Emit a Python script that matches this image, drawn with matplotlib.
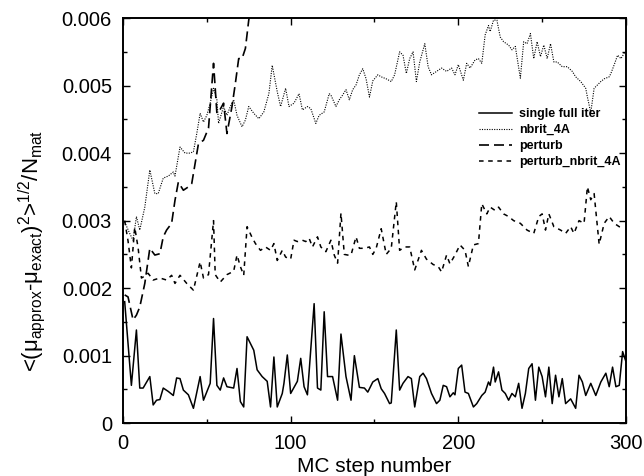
import matplotlib
matplotlib.use("Agg")
import matplotlib.pyplot as plt
from matplotlib.ticker import MultipleLocator

plt.rcParams['font.family'] = ['Liberation Sans', 'DejaVu Sans']
plt.rcParams['mathtext.fontset'] = 'custom'
plt.rcParams['mathtext.rm'] = 'Liberation Sans'
plt.rcParams['mathtext.it'] = 'Liberation Sans'
plt.rcParams['mathtext.bf'] = 'Liberation Sans:bold'

# ---------------- data ----------------
single_x = [1, 5, 8, 10, 12, 16, 18, 20, 22, 24, 27, 30, 32, 34, 36, 39, 42, 46, 48, 52,
            54, 56, 58, 60, 62, 66, 68, 70, 72, 74, 78, 80, 83, 86, 88, 90, 92, 95, 96, 98,
            100, 104, 106, 108, 110, 114, 116, 118, 120, 122, 125, 128, 130, 133, 136, 138,
            141, 144, 146, 149, 152, 154, 156, 159, 160, 163, 165, 167, 170, 172, 174, 177,
            179, 181, 184, 187, 189, 191, 193, 195, 197, 198, 200, 202, 204, 206, 209, 211,
            214, 216, 218, 219, 221, 222, 224, 226, 228, 230, 232, 234, 236, 238, 240, 242,
            244, 246, 248, 250, 252, 254, 256, 258, 260, 262, 264, 267, 270, 272, 274, 276,
            279, 282, 285, 288, 290, 292, 294, 296, 298, 300]
single_y = [0.00180, 0.00056, 0.00138, 0.00052, 0.00052, 0.00069, 0.00027, 0.00034, 0.00035, 0.00052,
            0.00047, 0.00041, 0.00067, 0.00066, 0.00049, 0.00042, 0.00022, 0.00069, 0.00034, 0.00059,
            0.00155, 0.00056, 0.00049, 0.00067, 0.00054, 0.00052, 0.00081, 0.00032, 0.00024, 0.00128,
            0.00108, 0.00079, 0.00069, 0.00062, 0.00024, 0.00098, 0.00024, 0.00044, 0.00059, 0.00101,
            0.00044, 0.00062, 0.00096, 0.00054, 0.00042, 0.00177, 0.00052, 0.00049, 0.00165, 0.00069,
            0.00069, 0.00034, 0.00132, 0.00069, 0.00034, 0.00100, 0.00053, 0.00052, 0.00046, 0.00061,
            0.00066, 0.00051, 0.00044, 0.00029, 0.00030, 0.00138, 0.00049, 0.00059, 0.00069, 0.00066,
            0.00024, 0.00069, 0.00074, 0.00066, 0.00044, 0.00029, 0.00034, 0.00056, 0.00054, 0.00039,
            0.00045, 0.00042, 0.00081, 0.00086, 0.00046, 0.00044, 0.00024, 0.00029, 0.00041, 0.00046,
            0.00061, 0.00056, 0.00083, 0.00061, 0.00076, 0.00049, 0.00044, 0.00034, 0.00044, 0.00039,
            0.00059, 0.00022, 0.00044, 0.00081, 0.00088, 0.00034, 0.00083, 0.00069, 0.00039, 0.00083,
            0.00029, 0.00071, 0.00039, 0.00066, 0.00029, 0.00036, 0.00022, 0.00071, 0.00061, 0.00041,
            0.00059, 0.00041, 0.00061, 0.00074, 0.00054, 0.00083, 0.00054, 0.00056, 0.00106, 0.00091]

nbrit_x = [1, 4, 6, 8, 10, 13, 16, 19, 21, 24, 27, 30, 31, 34, 37, 40, 42, 44, 46, 48,
           50, 52, 54, 56, 57, 60, 62, 64, 66, 68, 71, 73, 75, 78, 81, 84, 87, 89, 92, 94,
           97, 99, 102, 105, 107, 110, 112, 115, 117, 120, 123, 124, 127, 129, 131, 133, 135, 137, 139, 141,
           143, 145, 147, 149, 152, 154, 157, 160, 162, 165, 167, 169, 171, 173, 175, 177, 180, 182, 184, 187,
           190, 193, 196, 198, 200, 203, 205, 207, 210, 212, 214, 216, 218, 219, 221, 223, 225, 227, 230, 232,
           234, 237, 239, 241, 243, 245, 247, 249, 251, 253, 255, 257, 259, 262, 265, 268, 270, 273, 276, 277,
           279, 281, 283, 285, 287, 290, 291, 293, 295, 297, 299]
nbrit_y = [0.00298, 0.00281, 0.00271, 0.00306, 0.00286, 0.00320, 0.00375, 0.00340, 0.00340, 0.00363,
           0.00366, 0.00372, 0.00366, 0.00409, 0.00400, 0.00400, 0.00402, 0.00429, 0.00459, 0.00446,
           0.00456, 0.00474, 0.00496, 0.00479, 0.00444, 0.00469, 0.00456, 0.00469, 0.00479, 0.00456,
           0.00439, 0.00449, 0.00469, 0.00459, 0.00451, 0.00461, 0.00488, 0.00530, 0.00491, 0.00469,
           0.00496, 0.00469, 0.00474, 0.00488, 0.00464, 0.00469, 0.00466, 0.00444, 0.00456, 0.00461,
           0.00488, 0.00486, 0.00469, 0.00479, 0.00486, 0.00494, 0.00479, 0.00494, 0.00501, 0.00516,
           0.00525, 0.00510, 0.00483, 0.00507, 0.00516, 0.00513, 0.00510, 0.00506, 0.00516, 0.00550,
           0.00545, 0.00518, 0.00540, 0.00550, 0.00506, 0.00535, 0.00562, 0.00528, 0.00516, 0.00521,
           0.00526, 0.00521, 0.00526, 0.00516, 0.00531, 0.00508, 0.00533, 0.00526, 0.00538, 0.00540,
           0.00533, 0.00575, 0.00589, 0.00580, 0.00597, 0.00597, 0.00572, 0.00565, 0.00560, 0.00553,
           0.00558, 0.00511, 0.00565, 0.00562, 0.00577, 0.00540, 0.00565, 0.00543, 0.00560, 0.00540,
           0.00562, 0.00535, 0.00535, 0.00528, 0.00528, 0.00521, 0.00513, 0.00506, 0.00496, 0.00483,
           0.00460, 0.00496, 0.00501, 0.00506, 0.00510, 0.00513, 0.00518, 0.00531, 0.00545, 0.00540, 0.00548]

perturb_x = [1, 3, 6, 8, 10, 13, 16, 19, 22, 24, 26, 29, 31, 33, 36, 39, 41, 45, 48, 51,
             54, 56, 58, 60, 62, 65, 67, 69, 71, 73, 75, 78, 82]
perturb_y = [0.00190, 0.00187, 0.00153, 0.00160, 0.00172, 0.00207, 0.00259, 0.00249, 0.00251, 0.00276,
             0.00286, 0.00296, 0.00330, 0.00357, 0.00345, 0.00350, 0.00355, 0.00414, 0.00419, 0.00437,
             0.00533, 0.00459, 0.00465, 0.00474, 0.00429, 0.00469, 0.00503, 0.00540, 0.00540, 0.00555,
             0.00597, 0.00640, 0.00680]

pn_x = [1, 3, 5, 7, 9, 11, 13, 15, 18, 22, 26, 29, 31, 34, 38, 42, 46, 48, 51, 54,
        55, 58, 62, 66, 68, 70, 72, 74, 77, 79, 82, 85, 88, 90, 92, 95, 97, 100, 102, 104,
        107, 109, 111, 113, 116, 118, 121, 124, 126, 128, 130, 132, 134, 136, 139, 141, 144, 147, 149, 151,
        154, 157, 160, 163, 165, 168, 171, 174, 178, 181, 185, 188, 190, 193, 195, 198, 201, 204, 206, 209,
        212, 214, 217, 219, 222, 224, 227, 230, 233, 237, 241, 245, 248, 250, 252, 254, 257, 261, 264, 267,
        269, 272, 275, 277, 279, 281, 284, 287, 290, 293, 296, 299]
pn_y = [0.00300, 0.00270, 0.00230, 0.00290, 0.00260, 0.00215, 0.00218, 0.00222, 0.00212, 0.00215,
        0.00212, 0.00219, 0.00207, 0.00219, 0.00207, 0.00197, 0.00239, 0.00215, 0.00220, 0.00300,
        0.00220, 0.00209, 0.00220, 0.00225, 0.00249, 0.00232, 0.00219, 0.00291, 0.00275, 0.00266,
        0.00256, 0.00261, 0.00256, 0.00266, 0.00241, 0.00256, 0.00246, 0.00243, 0.00271, 0.00269,
        0.00271, 0.00269, 0.00274, 0.00261, 0.00276, 0.00261, 0.00254, 0.00271, 0.00249, 0.00237,
        0.00311, 0.00250, 0.00249, 0.00249, 0.00276, 0.00259, 0.00259, 0.00261, 0.00250, 0.00259,
        0.00288, 0.00250, 0.00259, 0.00328, 0.00256, 0.00261, 0.00261, 0.00227, 0.00256, 0.00243,
        0.00235, 0.00232, 0.00224, 0.00249, 0.00236, 0.00249, 0.00264, 0.00256, 0.00232, 0.00264,
        0.00266, 0.00325, 0.00310, 0.00320, 0.00315, 0.00320, 0.00310, 0.00306, 0.00300, 0.00296,
        0.00286, 0.00281, 0.00306, 0.00310, 0.00286, 0.00310, 0.00291, 0.00286, 0.00281, 0.00291,
        0.00281, 0.00300, 0.00296, 0.00350, 0.00331, 0.00340, 0.00265, 0.00296, 0.00306, 0.00296,
        0.00291, 0.00289]

labels = ['single full iter', 'nbrit_4A', 'perturb', 'perturb_nbrit_4A']
xticks = [0, 100, 200, 300]
yticks = [0, 0.001, 0.002, 0.003, 0.004, 0.005, 0.006]
yticklabels = ['0', '0.001', '0.002', '0.003', '0.004', '0.005', '0.006']

# ---------------- plot ----------------
fig = plt.figure(figsize=(6.44, 4.76), dpi=100)
ax = fig.add_axes([0.191, 0.111, 0.781, 0.851])

ax.plot(single_x, single_y, color='black', lw=1.1, ls='-', label=labels[0])
ax.plot(nbrit_x, nbrit_y, color='black', lw=0.8, ls=(0, (1, 1.2)), label=labels[1])
ax.plot(perturb_x, perturb_y, color='black', lw=1.2, ls=(0, (6, 3)), label=labels[2])
ax.plot(pn_x, pn_y, color='black', lw=1.1, ls=(0, (3, 3)), label=labels[3])

ax.set_xlim(0, 300)
ax.set_ylim(0, 0.006)
ax.set_xticks(xticks)
ax.set_yticks(yticks)
ax.set_yticklabels(yticklabels)
ax.xaxis.set_minor_locator(MultipleLocator(50))
ax.yaxis.set_minor_locator(MultipleLocator(0.0005))
ax.tick_params(which='both', direction='in', top=True, right=True, labelsize=14.5, pad=8, width=1.0)
ax.tick_params(which='major', length=5)
ax.tick_params(which='minor', length=3)
for s in ax.spines.values():
    s.set_linewidth(1.4)

ax.set_xlabel('MC step number', fontsize=15, labelpad=3)
fig.text(32 / 644, 1 - 251 / 476,
         r'<($\mu_{\rm approx}$-$\mu_{\rm exact}$)$^2$>$^{1/2}$/N$_{\rm mat}$',
         rotation=90, ha='center', va='center', fontsize=16)

leg = ax.legend(loc='center right', bbox_to_anchor=(0.995, 0.704), frameon=False,
                prop={'weight': 'bold', 'size': 9}, handlelength=2.6, handletextpad=0.6,
                labelspacing=0.32, borderpad=0.2, borderaxespad=0)

fig.savefig('out.png', dpi=100)
